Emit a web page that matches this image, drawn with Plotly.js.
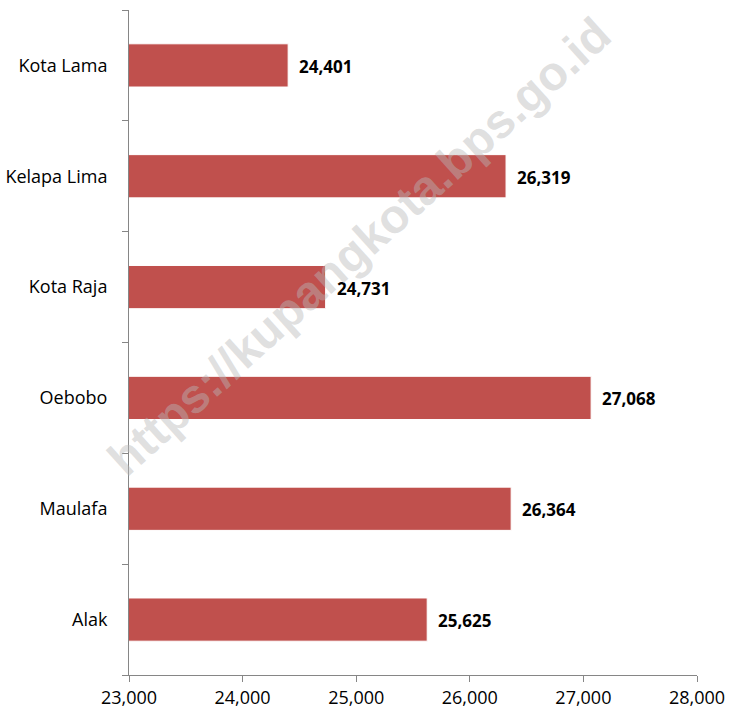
<!DOCTYPE html>
<html>
<head>
<meta charset="utf-8">
<script src="https://cdn.plot.ly/plotly-3.0.1.min.js"></script>
<style>html,body{margin:0;padding:0;background:#fff;}#chart{width:730px;height:713px;}</style>
</head>
<body>
<div id="chart"></div>
<script>
const categories = ['Alak', 'Maulafa', 'Oebobo', 'Kota Raja', 'Kelapa Lima', 'Kota Lama'];
const values = [25625, 26364, 27068, 24731, 26319, 24401];
const labels = ['25,625', '26,364', '27,068', '24,731', '26,319', '24,401'];
const xTicks = [23000, 24000, 25000, 26000, 27000, 28000];
const xTickLabels = ['23,000', '24,000', '25,000', '26,000', '27,000', '28,000'];

const FONT = '"Open Sans", Lato, sans-serif';

const trace = {
  type: 'bar',
  orientation: 'h',
  y: categories,
  x: values,
  width: 0.39,
  marker: { color: '#C0504D', line: { color: '#ffffff', width: 1 } },
  hoverinfo: 'none'
};

const annotations = categories.map((c, i) => ({
  x: values[i], y: c, xref: 'x', yref: 'y',
  text: '<b>' + labels[i] + '</b>',
  showarrow: false, xanchor: 'left', xshift: 9, yshift: -1,
  font: { family: FONT, size: 17, color: '#000' }
}));

annotations.push({
  xref: 'paper', yref: 'paper', x: 0.405, y: 0.645,
  text: '<b>https://kupangkota.bps.go.id</b>',
  showarrow: false, textangle: -42,
  font: { family: 'Liberation Sans, Arial, sans-serif', size: 48, color: 'rgba(185,185,185,0.45)' }
});

const layout = {
  width: 730, height: 713,
  margin: { l: 129, r: 33, t: 10, b: 38 },
  paper_bgcolor: '#fff', plot_bgcolor: '#fff',
  showlegend: false,
  font: { family: FONT, size: 18, color: '#000' },
  xaxis: {
    range: [23000, 28000],
    tickvals: xTicks, ticktext: xTickLabels,
    showgrid: false, zeroline: false,
    showline: true, linecolor: '#868686', linewidth: 1,
    ticks: 'outside', ticklen: 6, tickcolor: '#868686',
    tickfont: { family: FONT, size: 18, color: '#000' }
  },
  yaxis: {
    type: 'category',
    categoryorder: 'array', categoryarray: categories,
    showgrid: false, zeroline: false,
    showline: true, linecolor: '#868686', linewidth: 1,
    ticks: 'outside', ticklen: 6, tickcolor: '#868686',
    tickson: 'boundaries',
    ticklabelstandoff: 17,
    tickfont: { family: FONT, size: 18, color: '#000' }
  },
  annotations: annotations
};

Plotly.newPlot('chart', [trace], layout, { displayModeBar: false, staticPlot: true });
</script>
</body>
</html>
